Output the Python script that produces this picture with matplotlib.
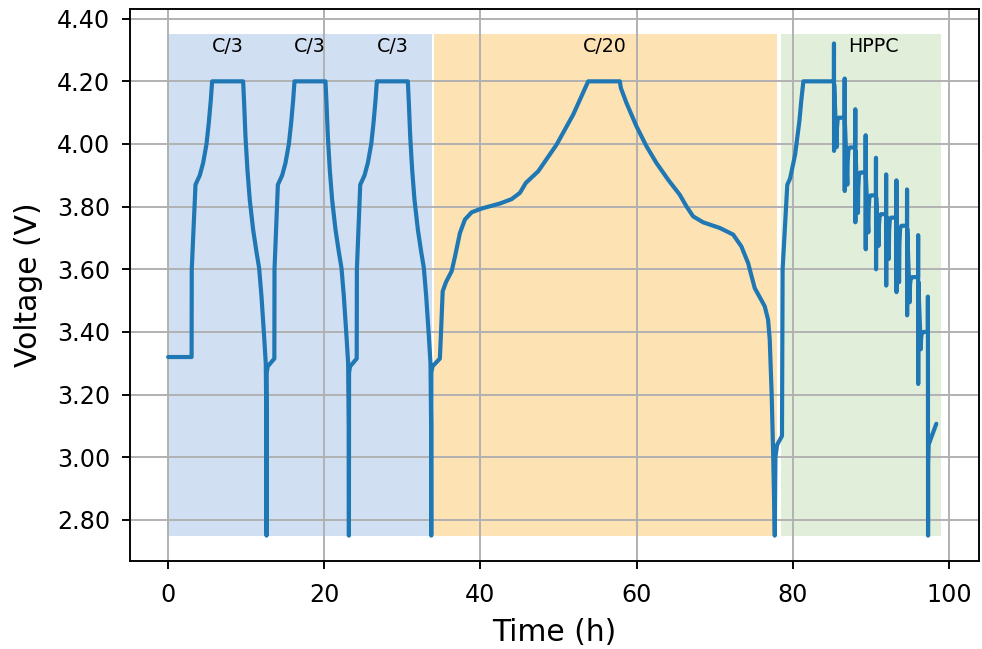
import matplotlib
matplotlib.use("Agg")
import matplotlib.pyplot as plt

# ---------------- data ----------------
# initial rest
rest_t = [0.0, 3.0]
rest_v = [3.32, 3.32]

# C/3 cycle 1
c3a_t = [3.02, 3.50, 4.05, 4.48, 4.91, 5.20, 5.46, 5.63, 9.60, 9.73, 9.90, 10.15,
         10.45, 10.88, 11.30, 11.65, 11.95, 12.29, 12.50, 12.58, 12.60, 12.62, 12.75, 13.60]
c3a_v = [3.60, 3.87, 3.90, 3.94, 4.00, 4.067, 4.14, 4.20, 4.20, 4.13, 4.025, 3.918,
         3.822, 3.727, 3.657, 3.604, 3.514, 3.386, 3.30, 3.10, 2.75, 3.27, 3.29, 3.315]

# C/3 cycle 2
c3b_t = [13.62, 14.05, 14.60, 15.03, 15.46, 15.75, 16.01, 16.18, 20.15, 20.28, 20.45, 20.70,
         21.00, 21.43, 21.85, 22.20, 22.50, 22.84, 23.05, 23.13, 23.15, 23.17, 23.30, 24.15]
c3b_v = [3.60, 3.87, 3.90, 3.94, 4.00, 4.067, 4.14, 4.20, 4.20, 4.13, 4.025, 3.918,
         3.822, 3.727, 3.657, 3.604, 3.514, 3.386, 3.30, 3.10, 2.75, 3.27, 3.29, 3.315]

# C/3 cycle 3
c3c_t = [24.17, 24.60, 25.15, 25.58, 26.01, 26.30, 26.56, 26.73, 30.70, 30.83, 31.00, 31.25,
         31.55, 31.98, 32.40, 32.75, 33.05, 33.39, 33.60, 33.68, 33.70, 33.72, 33.85, 34.80]
c3c_v = [3.60, 3.87, 3.90, 3.94, 4.00, 4.067, 4.14, 4.20, 4.20, 4.13, 4.025, 3.918,
         3.822, 3.727, 3.657, 3.604, 3.514, 3.386, 3.30, 3.10, 2.75, 3.27, 3.29, 3.315]

# C/20 cycle
c20_t = [34.95, 35.16, 35.60, 36.31, 36.73, 37.37, 38.01, 38.87, 40.15, 42.49, 43.99,
         45.05, 45.82, 47.40, 49.75, 51.88, 53.80, 57.85, 57.98, 58.70, 59.99, 61.26,
         62.55, 64.04, 65.53, 66.38, 67.24, 68.52, 70.65, 72.36, 73.42, 74.28, 75.13,
         76.41, 76.84, 77.05, 77.30, 77.50, 77.70, 77.78, 78.00, 78.62]
c20_v = [3.40, 3.53, 3.56, 3.594, 3.64, 3.716, 3.759, 3.782, 3.794, 3.81, 3.824,
         3.844, 3.876, 3.913, 3.998, 4.094, 4.20, 4.20, 4.179, 4.131, 4.056, 3.993,
         3.939, 3.886, 3.838, 3.801, 3.769, 3.75, 3.732, 3.711, 3.673, 3.62, 3.54,
         3.482, 3.439, 3.376, 3.20, 3.00, 2.75, 3.00, 3.04, 3.068]

# HPPC
hppc_t = [78.70, 79.30, 79.66, 80.30, 80.85, 81.10, 81.36, 85.27,
          85.28, 85.29, 85.30, 85.62, 85.66, 85.75, 85.90, 86.64,
          86.65, 86.66, 86.67, 86.99, 87.03, 87.12, 87.30, 88.00,
          88.01, 88.02, 88.03, 88.35, 88.39, 88.48, 88.65, 89.33,
          89.34, 89.35, 89.36, 89.68, 89.72, 89.81, 89.98, 90.65,
          90.66, 90.67, 90.68, 91.00, 91.04, 91.13, 91.30, 91.95,
          91.96, 91.97, 91.98, 92.30, 92.34, 92.43, 92.60, 93.27,
          93.28, 93.29, 93.30, 93.62, 93.66, 93.75, 93.92, 94.63,
          94.64, 94.65, 94.66, 94.98, 95.02, 95.11, 95.28, 96.05,
          96.06, 96.07, 96.08, 96.40, 96.44, 96.53, 96.70, 97.30,
          97.31, 97.33, 97.34, 97.40, 98.39]
hppc_v = [3.60, 3.87, 3.89, 3.966, 4.073, 4.14, 4.20, 4.20,
          4.321, 3.978, 4.19, 3.99, 4.05, 4.078, 4.084, 4.084,
          4.209, 3.85, 4.075, 3.87, 3.94, 3.98, 3.989, 3.989,
          4.111, 3.75, 3.98, 3.78, 3.86, 3.90, 3.909, 3.909,
          4.028, 3.664, 3.90, 3.718, 3.79, 3.828, 3.836, 3.836,
          3.956, 3.60, 3.83, 3.675, 3.74, 3.77, 3.776, 3.776,
          3.903, 3.548, 3.77, 3.633, 3.72, 3.758, 3.765, 3.765,
          3.884, 3.527, 3.76, 3.559, 3.68, 3.73, 3.739, 3.739,
          3.855, 3.453, 3.73, 3.495, 3.55, 3.57, 3.575, 3.575,
          3.709, 3.234, 3.56, 3.345, 3.38, 3.397, 3.40, 3.40,
          3.513, 2.75, 2.98, 3.04, 3.107]

# shaded protocol regions
span_start = [0.0, 34.05, 78.5]
span_end = [33.79, 77.98, 98.95]
span_low = 2.75
span_high = 4.35
span_colors = ["#d0dff1", "#fde2b3", "#e1eed9"]

# region labels
label_text = ["C/3", "C/3", "C/3", "C/20", "HPPC"]
label_x = [7.62, 18.13, 28.73, 55.93, 90.3]
label_y = 4.311

x_ticks = [0, 20, 40, 60, 80, 100]
y_ticks = [2.80, 3.00, 3.20, 3.40, 3.60, 3.80, 4.00, 4.20, 4.40]

# ---------------- figure ----------------
S = 1.71
fig = plt.figure(figsize=(9.82, 6.49), dpi=100)
ax = fig.add_axes([0.1319, 0.1361, 0.8654, 0.8496])

for x0, x1, c in zip(span_start, span_end, span_colors):
    ax.fill_between([x0, x1], [span_low, span_low], [span_high, span_high],
                    color=c, linewidth=0, zorder=1)

time = rest_t + c3a_t + c3b_t + c3c_t + c20_t + hppc_t
volt = rest_v + c3a_v + c3b_v + c3c_v + c20_v + hppc_v
ax.plot(time, volt, color="#1f77b4", linewidth=1.75 * S, zorder=3,
        solid_joinstyle="round", solid_capstyle="round")

for txt, x in zip(label_text, label_x):
    ax.text(x, label_y, txt, ha="center", va="center", fontsize=8 * S, zorder=4)

ax.set_xlim(-4.95, 103.9)
ax.set_ylim(2.67, 4.43)
ax.set_xticks(x_ticks)
ax.set_yticks(y_ticks)
ax.set_yticklabels([f"{v:.2f}" for v in y_ticks])

ax.grid(True, color="#b0b0b0", linewidth=0.8 * S, zorder=1.5)
ax.tick_params(labelsize=10 * S, length=3.5 * S, width=0.8 * S)
ax.tick_params(axis="x", pad=10)
ax.tick_params(axis="y", pad=8)
for sp in ax.spines.values():
    sp.set_linewidth(0.8 * S)

ax.set_xlabel("Time (h)", fontsize=12.5 * S, labelpad=8)
ax.set_ylabel("Voltage (V)", fontsize=12.5 * S, labelpad=10)

fig.savefig("out.png", dpi=100)
